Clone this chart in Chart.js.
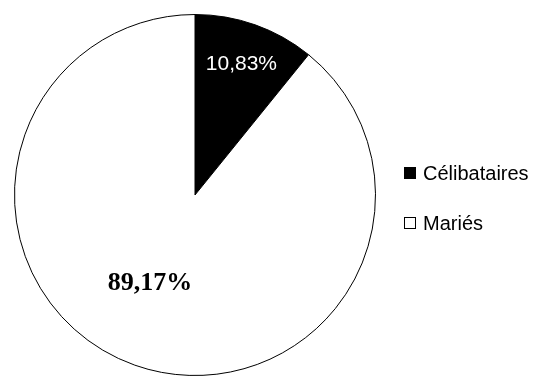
<!DOCTYPE html>
<html>
<head>
<meta charset="utf-8">
<script src="https://cdn.jsdelivr.net/npm/chart.js@4"></script>
<style>
  html, body { margin: 0; padding: 0; background: #fff; }
  canvas { display: block; }
</style>
</head>
<body>
<canvas id="chartPie" width="539" height="376"></canvas>
<script>
const categories = ['Célibataires', 'Mariés'];
const values = [10.83, 89.17];
const valueLabels = ['10,83%', '89,17%'];
const fills = ['#000000', '#ffffff'];

// label styles per slice (Excel put them in different fonts)
const labelFonts = ['21px "Liberation Sans", Arial, sans-serif', 'bold 26px "Liberation Serif", "Times New Roman", serif'];
const labelColors = ['#ffffff', '#000000'];
const labelRadius = [0.77, 0.55];
const labelAngleFrac = [0.5, 0.523];

const sliceLabels = {
    id: 'sliceLabels',
    afterDatasetsDraw(chart) {
        const ctx = chart.ctx;
        const arcs = chart.getDatasetMeta(0).data;
        ctx.save();
        ctx.textAlign = 'center';
        ctx.textBaseline = 'middle';
        arcs.forEach((arc, i) => {
            const p = arc.getProps(['x', 'y', 'startAngle', 'endAngle', 'outerRadius'], true);
            const a = p.startAngle + (p.endAngle - p.startAngle) * labelAngleFrac[i];
            const r = p.outerRadius * labelRadius[i];
            ctx.font = labelFonts[i];
            ctx.fillStyle = labelColors[i];
            ctx.fillText(valueLabels[i], p.x + Math.cos(a) * r, p.y + Math.sin(a) * r);
        });
        ctx.restore();
    }
};

const sideLegend = {
    id: 'sideLegend',
    afterDraw(chart) {
        const ctx = chart.ctx;
        const x0 = chart.chartArea.right + 28;
        let y = 173;
        ctx.save();
        ctx.font = '20px "Liberation Sans", Arial, sans-serif';
        ctx.textBaseline = 'middle';
        categories.forEach((c, i) => {
            ctx.fillStyle = fills[i];
            ctx.fillRect(x0, y - 6, 12, 12);
            ctx.strokeStyle = '#000';
            ctx.lineWidth = 1;
            ctx.strokeRect(x0 + 0.5, y - 5.5, 11, 11);
            ctx.fillStyle = '#000';
            ctx.fillText(c, x0 + 19, y + 1);
            y += 50;
        });
        ctx.restore();
    }
};

new Chart(document.getElementById('chartPie'), {
    type: 'pie',
    data: {
        labels: categories,
        datasets: [{
            data: values,
            backgroundColor: fills,
            borderColor: '#000000',
            borderWidth: 1
        }]
    },
    options: {
        responsive: false,
        animation: false,
        layout: { padding: { left: 14, top: 14, right: 163, bottom: 0 } },
        plugins: {
            legend: { display: false },
            tooltip: { enabled: false }
        }
    },
    plugins: [sliceLabels, sideLegend]
});
</script>
</body>
</html>
